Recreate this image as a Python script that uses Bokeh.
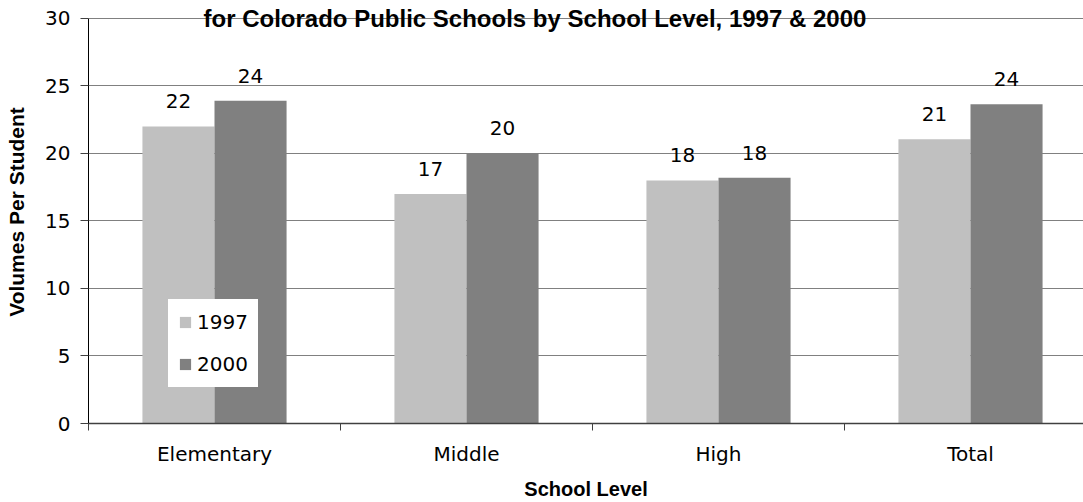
import numpy as np
from bokeh.plotting import figure
from bokeh.models import Range1d, FixedTicker, Label, ColumnDataSource
from bokeh.core.properties import value
from bokeh.embed import file_html
from bokeh.resources import INLINE

categories = ["Elementary", "Middle", "High", "Total"]
series_names = ["1997", "2000"]
vols_1997 = [22.0, 17.0, 18.0, 21.05]
vols_2000 = [23.9, 20.0, 18.2, 23.65]
y_ticks = [0, 5, 10, 15, 20, 25, 30]
title_text = "for Colorado Public Schools by School Level, 1997 & 2000"
x_title = "School Level"
y_title = "Volumes Per Student"

colors = ["#c0c0c0", "#808080"]
LABEL_FONT = "DejaVu Sans"
BOLD_FONT = "Liberation Sans"

n = len(categories)
idx = np.arange(n)
centers = idx + 0.5
bar_w = 0.286
offsets = [-bar_w / 2, bar_w / 2]

y_max = y_ticks[-1]
# frame spans the full canvas top so the title sits inside it; axis bounded at 30
y_top = y_max * 424 / 406

p = figure(width=1083, height=502, output_backend="svg", toolbar_location=None,
           x_range=Range1d(0, 995 / 252), y_range=Range1d(0, y_top),
           min_border_left=88, min_border_right=0, min_border_top=0,
           min_border_bottom=78)
p.outline_line_color = None
p.background_fill_color = "white"
p.border_fill_color = "white"

for vals, name, col, off in zip([vols_1997, vols_2000], series_names, colors, offsets):
    src = ColumnDataSource(dict(
        x=centers + off,
        top=vals,
        lab=[str(int(round(v))) for v in vals],
    ))
    p.vbar(x="x", top="top", width=bar_w, bottom=0, source=src,
           fill_color=col, line_color=None, legend_label=name)
    p.text(x="x", y="top", text="lab", source=src, text_align="center",
           text_baseline="middle", y_offset=-25,
           text_font=value(LABEL_FONT), text_font_size="20px", text_color="black")

# axes
xa = p.xaxis[0]
xa.ticker = FixedTicker(ticks=list(centers), minor_ticks=list(np.arange(n + 1)))
xa.major_label_overrides = {float(c): cat for c, cat in zip(centers, categories)}
xa.major_tick_line_color = None
xa.major_tick_out = 0
xa.major_tick_in = 0
xa.minor_tick_line_color = "#404040"
xa.minor_tick_out = 7
xa.minor_tick_in = 0
xa.axis_line_color = "#404040"
xa.axis_line_width = 1.5
xa.major_label_text_font = LABEL_FONT
xa.major_label_text_font_size = "20px"
xa.major_label_text_color = "black"
xa.major_label_standoff = 11
xa.axis_label = x_title
xa.axis_label_text_font = BOLD_FONT
xa.axis_label_text_font_style = "bold"
xa.axis_label_text_font_size = "20px"
xa.axis_label_text_color = "black"
xa.axis_label_standoff = 9

ya = p.yaxis[0]
ya.ticker = FixedTicker(ticks=y_ticks, minor_ticks=[])
ya.bounds = (0, y_max)
ya.axis_line_color = "black"
ya.major_tick_line_color = "#404040"
ya.major_tick_out = 8
ya.major_tick_in = 0
ya.minor_tick_line_color = None
ya.major_label_text_font = LABEL_FONT
ya.major_label_text_font_size = "20px"
ya.major_label_text_color = "black"
ya.major_label_standoff = 10
ya.axis_label = y_title
ya.axis_label_text_font = BOLD_FONT
ya.axis_label_text_font_style = "bold"
ya.axis_label_text_font_size = "21px"
ya.axis_label_text_color = "black"
ya.axis_label_standoff = 14

p.xgrid.grid_line_color = None
p.ygrid.ticker = FixedTicker(ticks=y_ticks)
p.ygrid.grid_line_color = "#808080"
p.ygrid.grid_line_width = 1.2

# legend
lg = p.legend[0]
lg.location = (80, 36)
lg.background_fill_color = "white"
lg.background_fill_alpha = 1.0
lg.border_line_color = "white"
lg.border_line_width = 1
lg.padding = 9
lg.margin = 0
lg.spacing = 16
lg.glyph_width = 14
lg.glyph_height = 14
lg.label_height = 26
lg.label_standoff = 5
lg.label_text_font = LABEL_FONT
lg.label_text_font_size = "20px"
lg.label_text_color = "black"

# title, sitting on the top gridline
title = Label(x=(203 - 88) / 252, y=y_max, y_offset=0, text=title_text,
              text_align="left", text_baseline="alphabetic",
              text_font=BOLD_FONT, text_font_style="bold",
              text_font_size="24px", text_color="black")
p.add_layout(title)

open("out.html", "w").write(file_html(p, INLINE))
